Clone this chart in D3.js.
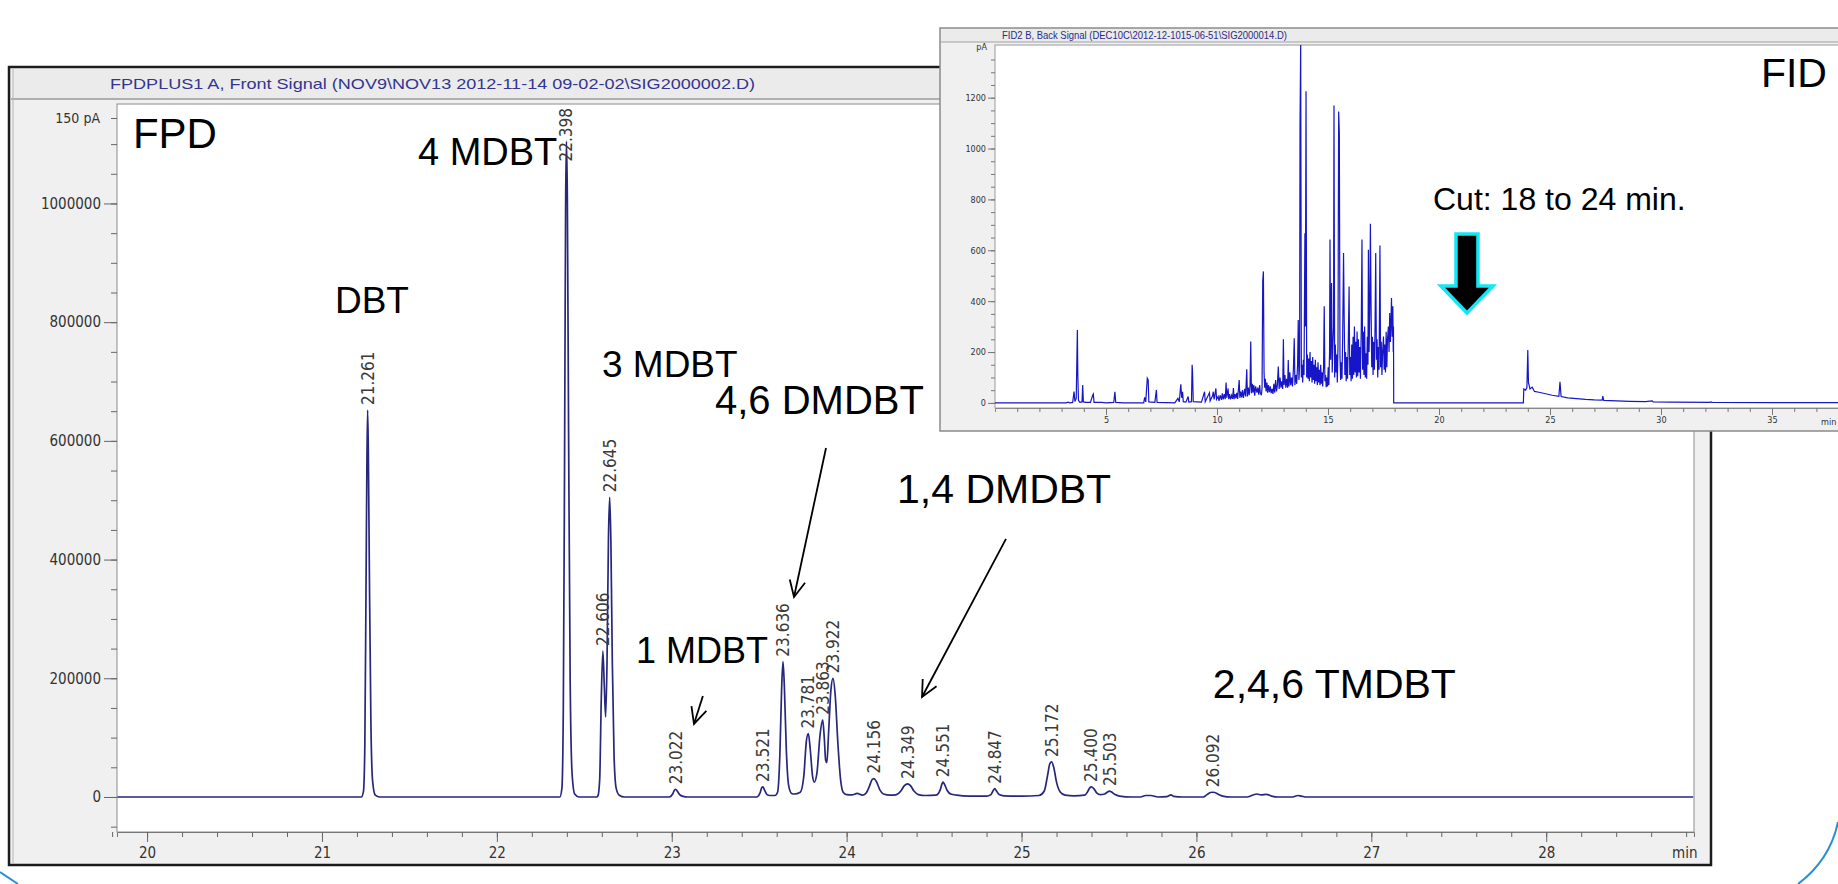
<!DOCTYPE html>
<html>
<head>
<meta charset="utf-8">
<script src="https://cdn.jsdelivr.net/npm/d3@7"></script>
<style>
  body { margin: 0; background: #fff; }
  svg { display: block; }
</style>
</head>
<body>
<svg id="chart" width="1838" height="884"></svg>
<script>
// ---- FPD chromatogram (main chart) ----
const fpdTimeDomain = [19.828, 28.845];
const fpdSignalDomain = [-59000, 1144000];
const fpdXTicks = [20, 21, 22, 23, 24, 25, 26, 27, 28];
const fpdYTicks = [0, 200000, 400000, 600000, 800000, 1000000];
const fpdTopLabel = "150 pA";
const fpdTitle = "FPDPLUS1 A, Front Signal (NOV9\\NOV13 2012-11-14 09-02-02\\SIG2000002.D)";

// retention time (min) / signal
const fpdTrace = [
  [19.83, 0], [21.20, 0],
  [21.225, 0], [21.237, 9000], [21.245, 85000], [21.252, 360000], [21.257, 565000], [21.261, 652000],
  [21.265, 585000], [21.271, 380000], [21.280, 120000], [21.290, 25000], [21.305, 3000], [21.33, 0],
  [22.33, 0],
  [22.36, 0], [22.372, 15000], [22.380, 150000], [22.387, 560000], [22.393, 990000], [22.398, 1105000],
  [22.403, 1010000], [22.410, 620000], [22.419, 200000], [22.430, 40000], [22.445, 5000], [22.47, 0],
  [22.57, 0],
  [22.578, 2000], [22.588, 30000], [22.597, 165000], [22.606, 246000], [22.614, 190000], [22.622, 135000],
  [22.630, 230000], [22.638, 435000], [22.645, 505000], [22.652, 430000], [22.660, 230000], [22.670, 70000],
  [22.682, 15000], [22.70, 3000], [22.73, 0],
  [22.98, 0],
  [22.99, 500], [23.005, 5000], [23.015, 11500], [23.022, 13000], [23.032, 9500], [23.045, 4000], [23.065, 1000], [23.09, 0],
  [23.48, 0],
  [23.49, 500], [23.505, 7000], [23.515, 16000], [23.521, 17000], [23.53, 12000], [23.545, 4000], [23.56, 2500],
  [23.59, 2500], [23.605, 8000], [23.618, 70000], [23.628, 180000], [23.636, 228000], [23.644, 185000],
  [23.655, 80000], [23.668, 20000], [23.685, 6000], [23.70, 5000],
  [23.735, 8000], [23.755, 35000], [23.770, 95000], [23.781, 107000], [23.792, 80000], [23.805, 35000], [23.815, 25000],
  [23.830, 40000], [23.848, 105000], [23.863, 130000], [23.872, 100000], [23.880, 62000], [23.887, 58000],
  [23.897, 110000], [23.910, 180000], [23.922, 200000], [23.935, 170000], [23.950, 90000], [23.965, 30000],
  [23.98, 8000], [24.00, 4000], [24.03, 3500], [24.06, 6000], [24.09, 3000], [24.11, 6000],
  [24.13, 18000], [24.145, 29000], [24.156, 31000], [24.17, 26000], [24.19, 12000], [24.21, 5000], [24.25, 3000], [24.28, 3500],
  [24.31, 10000], [24.33, 19000], [24.349, 22000], [24.365, 19000], [24.385, 10000], [24.41, 4000], [24.45, 2500], [24.51, 3000],
  [24.535, 12000], [24.545, 22000], [24.551, 25000], [24.56, 21000], [24.575, 11000], [24.595, 5000], [24.63, 3000],
  [24.70, 1500], [24.80, 1500],
  [24.825, 4000], [24.838, 11000], [24.847, 14000], [24.857, 10000], [24.872, 4000], [24.90, 2000], [25.00, 1500], [25.10, 2500],
  [25.13, 10000], [25.148, 35000], [25.162, 56000], [25.172, 59000], [25.184, 50000], [25.20, 25000], [25.22, 9000],
  [25.25, 3000], [25.30, 2000], [25.36, 3000],
  [25.38, 10000], [25.39, 15500], [25.400, 17000], [25.413, 14000], [25.43, 7000], [25.45, 4000], [25.475, 5000],
  [25.49, 8000], [25.503, 10000], [25.515, 8500], [25.535, 4000], [25.56, 1500], [25.63, 0], [25.68, 0],
  [25.71, 2500], [25.74, 2500], [25.78, 0], [25.83, 500], [25.855, 3500], [25.87, 1000], [25.92, 0], [26.04, 0],
  [26.06, 4000], [26.08, 7500], [26.092, 8000], [26.105, 7500], [26.125, 4500], [26.15, 1500], [26.20, 0],
  [26.29, 0], [26.32, 3000], [26.345, 5000], [26.37, 3500], [26.40, 4500], [26.43, 1500], [26.47, 0],
  [26.55, 0], [26.58, 2500], [26.60, 1500], [26.63, 0], [28.84, 0]
];

const fpdPeakTimes = [21.261, 22.398, 22.606, 22.645, 23.022, 23.521, 23.636, 23.781, 23.863,
  23.922, 24.156, 24.349, 24.551, 24.847, 25.172, 25.400, 25.503, 26.092];
const fpdPeakHeights = [652000, 1105000, 246000, 505000, 13000, 17000, 228000, 107000, 130000,
  200000, 31000, 22000, 25000, 14000, 59000, 17000, 10000, 8000];

// ---- FID chromatogram (inset) ----
const fidTimeDomain = [0, 38.0];
const fidSignalDomain = [-20, 1400];
const fidXTicks = [5, 10, 15, 20, 25, 30, 35];
const fidYTicks = [0, 200, 400, 600, 800, 1000, 1200];
const fidTitle = "FID2 B, Back Signal (DEC10C\\2012-12-1015-06-51\\SIG2000014.D)";

const fidTrace = [
  [0, 0], [3.2, 0], [3.3, 3], [3.36, 0], [3.5, 2], [3.56, 45], [3.6, 6], [3.66, 18], [3.71, 287], [3.73, 115],
  [3.76, 10], [3.82, 2], [3.92, 4], [3.95, 70], [3.98, 4], [4.1, 2], [4.3, 2], [4.4, 30], [4.43, 35], [4.46, 2],
  [4.8, 2], [5.0, 0], [5.35, 2], [5.4, 44], [5.44, 2], [5.8, 0], [6.7, 0], [6.74, 22], [6.79, 4], [6.86, 97],
  [6.9, 90], [6.93, 4], [7.2, 2], [7.27, 51], [7.3, 2], [8.1, 0], [8.24, 18], [8.3, 4], [8.37, 73], [8.41, 20],
  [8.45, 44], [8.48, 5], [8.6, 3], [8.7, 25], [8.73, 3], [8.85, 5], [8.88, 150], [8.9, 117], [8.93, 5], [9.3, 3],
  [9.44, 44], [9.47, 5], [9.66, 40], [9.69, 8], [9.8, 28], [9.83, 44], [9.87, 14], [9.95, 57], [9.98, 14],
  [10.05, 25], [10.09, 8], [10.14, 30], [10.2, 12], [10.24, 38], [10.28, 14], [10.33, 35], [10.37, 15], [10.41, 80],
  [10.44, 20], [10.5, 57], [10.53, 15], [10.57, 35], [10.61, 14], [10.66, 30], [10.7, 16], [10.74, 58], [10.77, 15],
  [10.81, 35], [10.85, 18], [10.89, 40], [10.93, 16], [11.0, 90], [11.03, 20], [11.07, 45], [11.11, 22], [11.15, 50],
  [11.19, 20], [11.25, 55], [11.29, 25], [11.34, 132], [11.37, 25], [11.41, 60], [11.45, 30], [11.49, 70],
  [11.52, 241], [11.55, 38], [11.59, 75], [11.62, 40], [11.66, 70], [11.7, 28], [11.74, 65], [11.8, 40],
  [11.84, 60], [11.88, 32], [11.92, 70], [11.95, 40], [12.0, 30],
  [12.03, 60], [12.06, 480], [12.09, 517], [12.12, 117], [12.15, 60], [12.18, 95], [12.21, 45], [12.25, 80],
  [12.28, 40], [12.32, 70], [12.36, 42], [12.4, 65], [12.44, 38], [12.48, 55], [12.52, 35], [12.56, 75], [12.6, 40],
  [12.64, 90], [12.68, 45], [12.72, 70], [12.76, 143], [12.8, 55], [12.84, 100], [12.88, 60], [12.92, 85],
  [12.96, 55], [12.99, 250], [13.02, 70], [13.06, 110], [13.1, 60], [13.14, 95], [13.18, 60], [13.21, 169],
  [13.24, 65], [13.28, 120], [13.32, 70], [13.36, 100], [13.4, 65], [13.44, 130], [13.48, 254], [13.51, 70],
  [13.55, 110], [13.59, 75], [13.63, 150], [13.66, 326], [13.69, 90], [13.72, 140], [13.74, 1100], [13.77, 1420],
  [13.8, 100], [13.83, 150], [13.86, 80], [13.89, 170], [13.92, 110], [13.96, 667], [13.98, 300], [14.01, 1225],
  [14.04, 100], [14.07, 190], [14.1, 95], [14.13, 175], [14.16, 85], [14.19, 200], [14.22, 100], [14.25, 165],
  [14.28, 80], [14.31, 180], [14.34, 90], [14.37, 150], [14.4, 75], [14.43, 170], [14.46, 85], [14.49, 140],
  [14.52, 70], [14.55, 160], [14.58, 80], [14.61, 130], [14.64, 70], [14.67, 150], [14.7, 75], [14.73, 120],
  [14.76, 65], [14.8, 140], [14.83, 380], [14.86, 85], [14.89, 110], [14.92, 62], [14.95, 100], [14.98, 65],
  [15.01, 140], [15.04, 70], [15.07, 200], [15.09, 642], [15.12, 170], [15.14, 300], [15.16, 471], [15.19, 120],
  [15.22, 220], [15.25, 300], [15.27, 1169], [15.3, 100], [15.33, 230], [15.36, 120], [15.39, 190], [15.42, 80],
  [15.45, 220], [15.48, 1146], [15.51, 1061], [15.54, 180], [15.57, 90], [15.6, 160], [15.63, 95], [15.66, 250],
  [15.7, 589], [15.73, 326], [15.76, 110], [15.79, 200], [15.82, 85], [15.85, 180], [15.88, 95], [15.91, 220],
  [15.95, 458], [15.98, 110], [16.01, 180], [16.04, 85], [16.07, 230], [16.1, 95], [16.13, 260], [16.16, 110],
  [16.19, 300], [16.22, 120], [16.25, 240], [16.28, 100], [16.31, 281], [16.34, 105], [16.37, 250], [16.4, 120],
  [16.43, 220], [16.46, 95], [16.5, 300], [16.53, 642], [16.56, 130], [16.59, 280], [16.62, 110], [16.65, 300],
  [16.68, 100], [16.71, 195], [16.74, 95], [16.77, 260], [16.8, 150], [16.82, 602], [16.85, 200], [16.88, 350],
  [16.91, 704], [16.94, 380], [16.97, 140], [17.0, 260], [17.03, 110], [17.06, 240], [17.09, 130], [17.12, 300],
  [17.15, 589], [17.18, 170], [17.21, 250], [17.24, 100], [17.27, 220], [17.3, 130], [17.34, 619], [17.37, 140],
  [17.4, 240], [17.43, 110], [17.46, 200], [17.5, 261], [17.53, 130], [17.56, 230], [17.59, 120], [17.62, 280],
  [17.65, 140], [17.68, 250], [17.72, 300], [17.75, 200], [17.78, 353], [17.81, 240], [17.84, 330], [17.86, 412],
  [17.89, 260], [17.92, 380], [17.94, 200], [17.95, 300], [17.96, 0],
  [23.8, 0], [23.82, 55], [23.9, 50], [23.96, 60], [24.0, 208], [24.03, 80], [24.1, 55], [24.2, 62], [24.3, 45],
  [24.5, 42], [24.8, 36], [25.1, 30], [25.4, 26], [25.45, 83], [25.5, 25], [25.8, 20], [26.2, 17], [26.6, 14],
  [27.0, 12], [27.35, 11], [27.38, 27], [27.42, 10], [28.0, 8], [28.6, 6], [29.3, 5], [29.6, 8], [29.65, 4],
  [30.5, 3], [32.2, 2], [32.25, 4], [32.3, 2], [35, 1], [38, 1]
];

// ---- layout ----
const svg = d3.select("#chart");
const main = { left: 9, top: 67, right: 1711, bottom: 865, barBottom: 99 };
const mainPlot = { left: 117, top: 104, right: 1694, bottom: 832 };
const inset = { left: 940, top: 28, right: 1850, bottom: 431, barBottom: 42 };
const insetPlot = { left: 995, top: 45, right: 1855, bottom: 408 };

const tickFont = "'DejaVu Sans Condensed', 'DejaVu Sans', sans-serif";
const bigFont = "'Liberation Sans', Arial, sans-serif";

const x = d3.scaleLinear().domain(fpdTimeDomain).range([mainPlot.left, mainPlot.right]);
const y = d3.scaleLinear().domain(fpdSignalDomain).range([mainPlot.bottom, 118]);

// main window frame
const gMain = svg.append("g");
gMain.append("rect")
  .attr("x", main.left).attr("y", main.top)
  .attr("width", main.right - main.left).attr("height", main.bottom - main.top)
  .attr("fill", "#f0f0f0").attr("stroke", "#1c1c1c").attr("stroke-width", 2.5);
gMain.append("rect")
  .attr("x", main.left + 4).attr("y", main.top + 2)
  .attr("width", main.right - main.left - 8).attr("height", main.barBottom - main.top - 2)
  .attr("fill", "#ebebeb");
gMain.append("line")
  .attr("x1", main.left + 2).attr("x2", main.right - 2)
  .attr("y1", main.barBottom).attr("y2", main.barBottom)
  .attr("stroke", "#9a9a9a").attr("stroke-width", 1.5);
gMain.append("line")
  .attr("x1", main.left + 4).attr("x2", main.left + 4)
  .attr("y1", main.top + 2).attr("y2", main.bottom - 2)
  .attr("stroke", "#b4b4b4");
gMain.append("text")
  .attr("x", 110).attr("y", 89)
  .attr("font-family", "Arial, 'Liberation Sans', sans-serif")
  .attr("font-size", 15)
  .attr("textLength", 645).attr("lengthAdjust", "spacingAndGlyphs")
  .attr("fill", "#33358e")
  .text(fpdTitle);

gMain.append("rect")
  .attr("x", mainPlot.left).attr("y", mainPlot.top)
  .attr("width", mainPlot.right - mainPlot.left).attr("height", mainPlot.bottom - mainPlot.top)
  .attr("fill", "#fff").attr("stroke", "#8c8c8c").attr("stroke-width", 1);

// axes
const xMinor = d3.range(99, 145).map(i => i / 5);
gMain.append("g")
  .attr("transform", `translate(0,${mainPlot.bottom})`)
  .call(d3.axisBottom(x).tickValues(xMinor).tickSize(5).tickFormat(""))
  .call(g => g.select(".domain").attr("stroke", "#777"));
gMain.append("g")
  .attr("transform", `translate(0,${mainPlot.bottom})`)
  .call(d3.axisBottom(x).tickValues(fpdXTicks).tickSize(10).tickPadding(5).tickFormat(d3.format("d")))
  .call(g => g.select(".domain").remove())
  .call(g => g.selectAll("text").attr("font-family", tickFont).attr("font-size", 15).attr("fill", "#333"));
gMain.selectAll(".tick line").attr("stroke", "#666");
gMain.append("text")
  .attr("x", 1672).attr("y", 858)
  .attr("font-family", tickFont).attr("font-size", 15).attr("fill", "#333")
  .text("min");

const yMinor = d3.range(-1, 23).map(i => i * 50000);
gMain.append("g")
  .attr("transform", `translate(${mainPlot.left},0)`)
  .call(d3.axisLeft(y).tickValues(yMinor.concat([fpdSignalDomain[1]])).tickSize(6).tickFormat(""))
  .call(g => g.select(".domain").remove());
gMain.append("g")
  .attr("transform", `translate(${mainPlot.left},0)`)
  .call(d3.axisLeft(y).tickValues(fpdYTicks).tickSize(13).tickPadding(3).tickFormat(d3.format("d")))
  .call(g => g.select(".domain").remove())
  .call(g => g.selectAll("text").attr("font-family", tickFont).attr("font-size", 15).attr("fill", "#333"));
gMain.selectAll(".tick line").attr("stroke", "#666");
gMain.append("text")
  .attr("x", 100).attr("y", y(fpdSignalDomain[1]))
  .attr("dy", "0.35em").attr("text-anchor", "end")
  .attr("font-family", tickFont).attr("font-size", 14).attr("fill", "#333")
  .text(fpdTopLabel);

// trace
svg.append("clipPath").attr("id", "mainClip")
  .append("rect")
  .attr("x", mainPlot.left).attr("y", mainPlot.top)
  .attr("width", mainPlot.right - mainPlot.left).attr("height", mainPlot.bottom - mainPlot.top);

gMain.append("path")
  .datum(fpdTrace)
  .attr("clip-path", "url(#mainClip)")
  .attr("fill", "none")
  .attr("stroke", "#27277c")
  .attr("stroke-width", 1.7)
  .attr("stroke-linejoin", "round")
  .attr("d", d3.line().x(d => x(d[0])).y(d => y(d[1])).curve(d3.curveMonotoneX));

// retention time labels
fpdPeakTimes.forEach((t, i) => {
  const lbl = gMain.append("text")
    .attr("font-family", tickFont).attr("font-size", 17).attr("fill", "#3a3a3a")
    .attr("dominant-baseline", "central")
    .text(t.toFixed(3));
  const len = lbl.node().getComputedTextLength();
  const yb = Math.max(y(fpdPeakHeights[i]) - 5, mainPlot.top + 4 + len);
  lbl.attr("transform", `translate(${x(t)},${yb}) rotate(-90)`);
});

// compound names (anchored in time / signal units)
const compoundNotes = [
  { text: "FPD", t: 19.919, v: 1094000, size: 42 },
  { text: "4 MDBT", t: 21.549, v: 1065000, size: 38 },
  { text: "DBT", t: 21.074, v: 816000, size: 37 },
  { text: "3 MDBT", t: 22.601, v: 708000, size: 37 },
  { text: "4,6 DMDBT", t: 23.247, v: 645500, size: 40 },
  { text: "1,4 DMDBT", t: 24.288, v: 495500, size: 41 },
  { text: "1 MDBT", t: 22.795, v: 225900, size: 36 },
  { text: "2,4,6 TMDBT", t: 26.094, v: 166900, size: 41 }
];
gMain.selectAll("text.note")
  .data(compoundNotes)
  .enter().append("text")
  .attr("class", "note")
  .attr("x", d => x(d.t)).attr("y", d => y(d.v))
  .attr("font-family", bigFont).attr("font-size", d => d.size)
  .attr("fill", "#000")
  .text(d => d.text);

const pointers = [
  { from: [23.882, 588000], to: [23.699, 337000] },
  { from: [24.911, 435000], to: [24.431, 168500] },
  { from: [23.178, 170000], to: [23.127, 123000] }
];
pointers.forEach(p => {
  const x1 = x(p.from[0]), y1 = y(p.from[1]), x2 = x(p.to[0]), y2 = y(p.to[1]);
  const ang = Math.atan2(y1 - y2, x1 - x2);
  const arm = 18, spread = 0.45;
  gMain.append("line")
    .attr("x1", x1).attr("y1", y1).attr("x2", x2).attr("y2", y2)
    .attr("stroke", "#000").attr("stroke-width", 1.8);
  gMain.append("polyline")
    .attr("points", [
      [x2 + arm * Math.cos(ang + spread), y2 + arm * Math.sin(ang + spread)],
      [x2, y2],
      [x2 + arm * Math.cos(ang - spread), y2 + arm * Math.sin(ang - spread)]
    ].map(q => q.join(",")).join(" "))
    .attr("fill", "none").attr("stroke", "#000").attr("stroke-width", 1.8);
});

// ---- inset ----
const fx = d3.scaleLinear().domain(fidTimeDomain).range([insetPlot.left, 1838.6]);
const fy = d3.scaleLinear().domain(fidSignalDomain).range([insetPlot.bottom, 46.8]);

const gIn = svg.append("g");
gIn.append("rect")
  .attr("x", inset.left).attr("y", inset.top)
  .attr("width", inset.right - inset.left).attr("height", inset.bottom - inset.top)
  .attr("fill", "#f0f0f0").attr("stroke", "#8a8a8a").attr("stroke-width", 1.5);
gIn.append("rect")
  .attr("x", inset.left + 1).attr("y", inset.top + 1)
  .attr("width", inset.right - inset.left - 2).attr("height", inset.barBottom - inset.top - 1)
  .attr("fill", "#ebebeb");
gIn.append("line")
  .attr("x1", inset.left).attr("x2", inset.right)
  .attr("y1", inset.barBottom).attr("y2", inset.barBottom)
  .attr("stroke", "#a0a0a0");
gIn.append("text")
  .attr("x", 1002).attr("y", 38.5)
  .attr("font-family", "Arial, 'Liberation Sans', sans-serif")
  .attr("font-size", 10.5)
  .attr("textLength", 285).attr("lengthAdjust", "spacingAndGlyphs")
  .attr("fill", "#2a2a8a")
  .text(fidTitle);
gIn.append("rect")
  .attr("x", insetPlot.left).attr("y", insetPlot.top)
  .attr("width", insetPlot.right - insetPlot.left).attr("height", insetPlot.bottom - insetPlot.top)
  .attr("fill", "#fff").attr("stroke", "#9a9a9a");

gIn.append("g")
  .attr("transform", `translate(0,${insetPlot.bottom})`)
  .call(d3.axisBottom(fx).tickValues(d3.range(1, 39)).tickSize(4).tickFormat(""))
  .call(g => g.select(".domain").attr("stroke", "#888"));
gIn.append("g")
  .attr("transform", `translate(0,${insetPlot.bottom})`)
  .call(d3.axisBottom(fx).tickValues(fidXTicks).tickSize(7).tickPadding(2).tickFormat(d3.format("d")))
  .call(g => g.select(".domain").remove())
  .call(g => g.selectAll("text").attr("font-family", tickFont).attr("font-size", 9).attr("fill", "#333"));
gIn.append("text")
  .attr("x", 1821).attr("y", 425)
  .attr("font-family", tickFont).attr("font-size", 9).attr("fill", "#333")
  .text("min");

gIn.append("g")
  .attr("transform", `translate(${insetPlot.left},0)`)
  .call(d3.axisLeft(fy).tickValues(d3.range(0, 28).map(i => i * 50)).tickSize(4).tickFormat(""))
  .call(g => g.select(".domain").remove());
gIn.append("g")
  .attr("transform", `translate(${insetPlot.left},0)`)
  .call(d3.axisLeft(fy).tickValues(fidYTicks).tickSize(7).tickPadding(2).tickFormat(d3.format("d")))
  .call(g => g.select(".domain").remove())
  .call(g => g.selectAll("text").attr("font-family", tickFont).attr("font-size", 9).attr("fill", "#333"));
gIn.selectAll(".tick line").attr("stroke", "#777");
gIn.append("text")
  .attr("x", 987).attr("y", fy(1400)).attr("dy", "0.35em").attr("text-anchor", "end")
  .attr("font-family", tickFont).attr("font-size", 9).attr("fill", "#333")
  .text("pA");

svg.append("clipPath").attr("id", "insetClip")
  .append("rect")
  .attr("x", insetPlot.left).attr("y", insetPlot.top)
  .attr("width", insetPlot.right - insetPlot.left).attr("height", insetPlot.bottom - insetPlot.top);

gIn.append("path")
  .datum(fidTrace)
  .attr("clip-path", "url(#insetClip)")
  .attr("fill", "none")
  .attr("stroke", "#1616c8")
  .attr("stroke-width", 1.2)
  .attr("d", d3.line().x(d => fx(d[0])).y(d => fy(d[1])));

gIn.append("text")
  .attr("x", fx(34.5)).attr("y", fy(1242))
  .attr("font-family", bigFont).attr("font-size", 41).attr("fill", "#000")
  .text("FID");
gIn.append("text")
  .attr("x", fx(19.73)).attr("y", fy(759))
  .attr("font-family", bigFont).attr("font-size", 32).attr("fill", "#000")
  .text("Cut: 18 to 24 min.");

// cut arrow (centred on 21.26 min)
const ax = fx(21.26), aTop = fy(664), aNeck = fy(460), aTip = fy(354);
const shaftHalf = 11, headHalf = 26;
gIn.append("polygon")
  .attr("points", [
    [ax - shaftHalf, aTop], [ax + shaftHalf, aTop], [ax + shaftHalf, aNeck], [ax + headHalf, aNeck],
    [ax, aTip], [ax - headHalf, aNeck], [ax - shaftHalf, aNeck]
  ].map(q => q.join(",")).join(" "))
  .attr("fill", "#000").attr("stroke", "#14e6f4").attr("stroke-width", 3.5)
  .attr("stroke-linejoin", "miter");

// slide border corners
svg.append("path")
  .attr("d", "M1838,822 Q1830,860 1798,884")
  .attr("fill", "none").attr("stroke", "#2a8fd6").attr("stroke-width", 2);
svg.append("path")
  .attr("d", "M0,872 Q9,878 18,884")
  .attr("fill", "none").attr("stroke", "#2a8fd6").attr("stroke-width", 2);
</script>
</body>
</html>
